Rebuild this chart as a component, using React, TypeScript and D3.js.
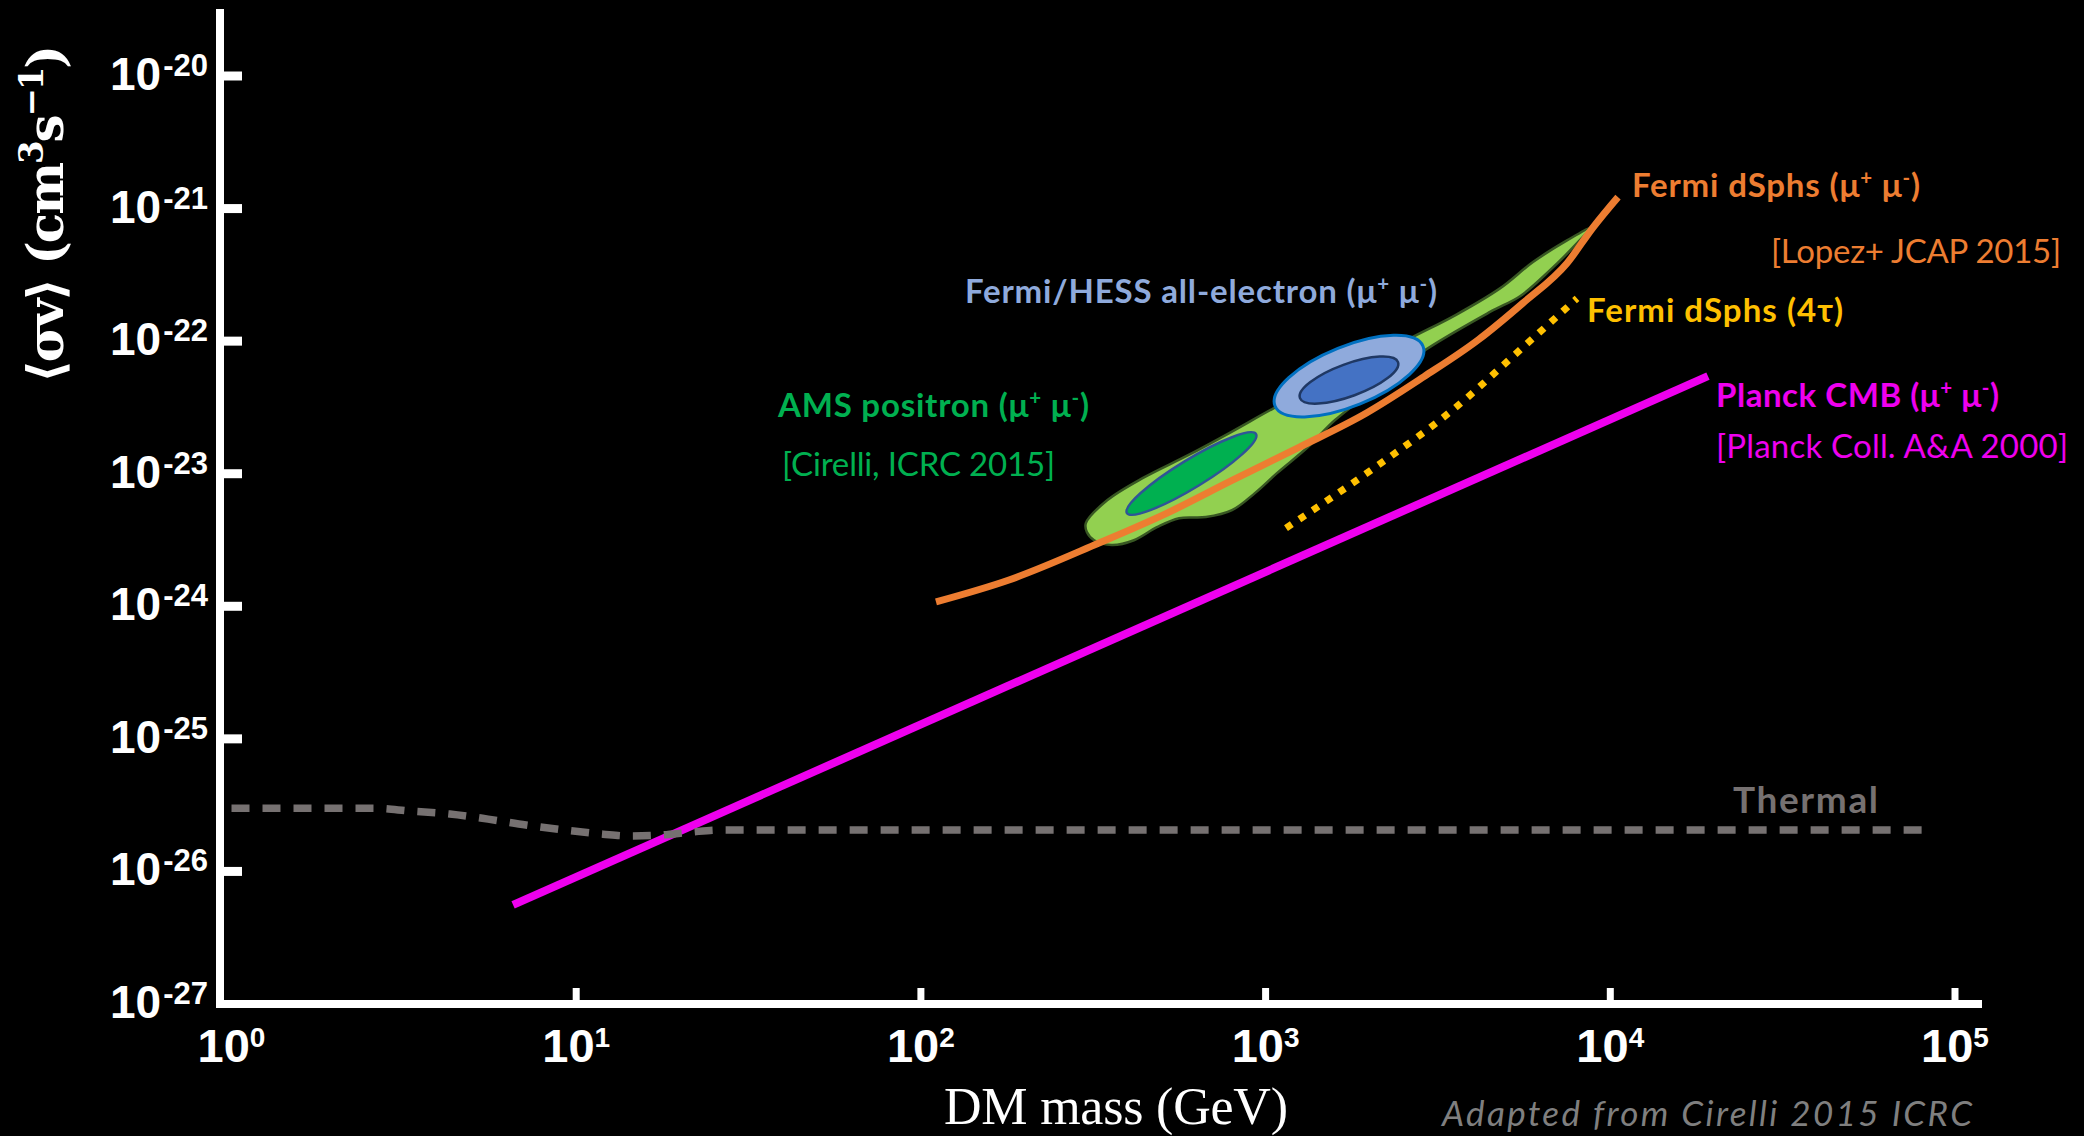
import React from "react";
import * as d3 from "d3";

const W = 2084;
const H = 1136;

// Axis ticks (decades)
const xTickValues = [1, 10, 100, 1000, 10000, 100000];
const xTickExponents = ["0", "1", "2", "3", "4", "5"];
const yTickValues = [1e-20, 1e-21, 1e-22, 1e-23, 1e-24, 1e-25, 1e-26, 1e-27];
const yTickExponents = ["-20", "-21", "-22", "-23", "-24", "-25", "-26", "-27"];

// Thermal relic cross section (GeV, cm^3 s^-1)
const thermalMass = [1, 2.57, 3.32, 4.3, 5.55, 7.15, 9.28, 11.96, 14.32, 17.51, 21.54, 25.78, 80760];
const thermalSv = [3.0e-26, 3.0e-26, 2.85e-26, 2.71e-26, 2.48e-26, 2.24e-26, 2.05e-26, 1.91e-26, 1.85e-26, 1.88e-26, 1.98e-26, 2.05e-26, 2.05e-26];

// Planck CMB bound (mu+ mu-)
const planckMass = [6.56, 19200];
const planckSv = [5.59e-27, 5.45e-23];

// Fermi dSphs bound (mu+ mu-)
const fermiMuMass = [110.6, 180.1, 328.6, 514.2, 798.8, 1250, 1956, 2881, 4133, 5582, 7489, 8910, 10527];
const fermiMuSv = [1.08e-24, 1.58e-24, 3.0e-24, 5.0e-24, 8.9e-24, 1.58e-23, 2.86e-23, 5.4e-23, 1.02e-22, 1.94e-22, 3.87e-22, 7.2e-22, 1.22e-21];

// Fermi dSphs bound (4 tau)
const fermiTauMass = [1146, 1956, 3568, 5582, 8007];
const fermiTauSv = [3.89e-24, 1.0e-23, 3.18e-23, 9.0e-23, 2.1e-22];

// AMS positron allowed region (outer contour)
const amsRegionMass = [301, 347, 441, 596, 799, 1051, 1438, 2009, 2572, 3568, 4786, 5967, 7489, 8733, 8007, 6686, 5471, 4477, 2843, 2147, 1590, 1327, 1079, 931, 799, 671, 561, 484, 415, 358, 318, 303];
const amsRegionSv = [4.24e-24, 6.3e-24, 9.3e-24, 1.38e-23, 2.08e-23, 3.1e-23, 4.7e-23, 7.2e-23, 1.02e-22, 1.58e-22, 2.5e-22, 3.95e-22, 5.75e-22, 7.11e-22, 5.48e-22, 3.43e-22, 2.18e-22, 1.66e-22, 8.26e-23, 4.66e-23, 2.54e-23, 1.59e-23, 1.01e-23, 7.14e-24, 5.31e-24, 4.71e-24, 4.62e-24, 3.95e-24, 3.15e-24, 2.9e-24, 3.15e-24, 3.63e-24];

// Elliptical best-fit regions: major-axis end points [mass, sv] and minor/major ratio
const amsCoreEnds = [[396, 5.05e-24], [938, 1.99e-23]];
const amsCoreRatio = 0.185;
const hessOuterEnds = [[1065, 3.24e-23], [2862, 9.16e-23]];
const hessOuterRatio = 0.375;
const hessInnerEnds = [[1258, 3.72e-23], [2422, 6.95e-23]];
const hessInnerRatio = 0.31;

const x = d3.scaleLog().domain([1, 1e5]).range([231.5, 1955]);
const y = d3.scaleLog().domain([1e-27, 1e-20]).range([1004, 76]);

const pts = (ms: number[], ss: number[]) => ms.map((m, i) => [x(m), y(ss[i])] as [number, number]);

const smoothLine = d3.line().curve(d3.curveMonotoneX);
const straightLine = d3.line();
const closedShape = d3.line().curve(d3.curveCatmullRomClosed.alpha(0.5));

function Ellipse({ ends, ratio, fill, stroke, sw }: any) {
  const [p1, p2] = ends.map((e: number[]) => [x(e[0]), y(e[1])]);
  const cx = (p1[0] + p2[0]) / 2;
  const cy = (p1[1] + p2[1]) / 2;
  const a = Math.hypot(p2[0] - p1[0], p2[1] - p1[1]) / 2;
  const ang = (Math.atan2(p2[1] - p1[1], p2[0] - p1[0]) * 180) / Math.PI;
  return (
    <ellipse cx={cx} cy={cy} rx={a} ry={a * ratio} fill={fill} stroke={stroke} strokeWidth={sw}
      transform={`rotate(${ang} ${cx} ${cy})`} />
  );
}

const LABEL_FONT = "Lato, 'Open Sans', 'DejaVu Sans', sans-serif";

function MuLabel({ x0, y0, size, color, bold, len, prefix }: any) {
  const up = size * 0.36;
  const s = size * 0.62;
  return (
    <text x={x0} y={y0} fill={color} fontFamily={LABEL_FONT} fontSize={size} fontWeight={bold ? 700 : 400}
      textLength={len} lengthAdjust="spacing">
      {prefix}(μ<tspan dy={-up} fontSize={s}>+</tspan><tspan dy={up}> μ</tspan>
      <tspan dy={-up} fontSize={s}>-</tspan><tspan dy={up}>)</tspan>
    </text>
  );
}

function PlainLabel({ x0, y0, size, color, bold, italic, len, children }: any) {
  return (
    <text x={x0} y={y0} fill={color} fontFamily={LABEL_FONT} fontSize={size} fontWeight={bold ? 700 : 400}
      fontStyle={italic ? "italic" : "normal"} textLength={len} lengthAdjust="spacing">
      {children}
    </text>
  );
}

export default function App() {
  const axisX = 220;
  const axisY = 1004;
  return (
    <svg width={W} height={H} style={{ position: "absolute", left: 0, top: 0, display: "block" }}>
      <rect x={0} y={0} width={W} height={H} fill="#000" />

      {/* Planck CMB bound */}
      <path d={straightLine(pts(planckMass, planckSv)) || ""} fill="none" stroke="#EE00EE" strokeWidth={8} />

      {/* Thermal relic */}
      <path d={smoothLine(pts(thermalMass, thermalSv)) || ""} fill="none" stroke="#767171" strokeWidth={7.5}
        strokeDasharray="18 13" />

      {/* AMS positron region and best-fit ellipses */}
      <path d={closedShape(pts(amsRegionMass, amsRegionSv)) || ""} fill="#92D050" stroke="#385723" strokeWidth={2.5} />
      <Ellipse ends={amsCoreEnds} ratio={amsCoreRatio} fill="#00B050" stroke="#2F5597" sw={2.5} />
      <Ellipse ends={hessOuterEnds} ratio={hessOuterRatio} fill="#8FAADC" stroke="#0070C0" sw={3} />
      <Ellipse ends={hessInnerEnds} ratio={hessInnerRatio} fill="#4472C4" stroke="#1F3864" sw={2.5} />

      {/* Fermi dSphs bounds */}
      <path d={smoothLine(pts(fermiMuMass, fermiMuSv)) || ""} fill="none" stroke="#ED7D31" strokeWidth={7} />
      <path d={smoothLine(pts(fermiTauMass, fermiTauSv)) || ""} fill="none" stroke="#FFC000" strokeWidth={7}
        strokeDasharray="7 9" />

      {/* Axes */}
      <line x1={axisX} x2={axisX} y1={9} y2={axisY + 4} stroke="#fff" strokeWidth={8} />
      <line x1={axisX - 4} x2={1982} y1={axisY} y2={axisY} stroke="#fff" strokeWidth={8} />
      {yTickValues.slice(0, 7).map((v) => (
        <line key={"yt" + v} x1={axisX + 4} x2={242} y1={y(v)} y2={y(v)} stroke="#fff" strokeWidth={9} />
      ))}
      {xTickValues.slice(1).map((v) => (
        <line key={"xt" + v} x1={x(v)} x2={x(v)} y1={axisY - 4} y2={988} stroke="#fff" strokeWidth={7} />
      ))}
      {yTickValues.map((v, i) => (
        <text key={"yl" + v} x={208} y={y(v) + 14} textAnchor="end" fill="#fff"
          fontFamily="'Liberation Sans', Arial, sans-serif" fontWeight={700} fontSize={46}>
          10<tspan dx={2} dy={-14} fontSize={31}>{yTickExponents[i]}</tspan>
        </text>
      ))}
      {xTickValues.map((v, i) => (
        <text key={"xl" + v} x={x(v)} y={1062} textAnchor="middle" fill="#fff"
          fontFamily="'Liberation Sans', Arial, sans-serif" fontWeight={700} fontSize={47}>
          10<tspan dy={-15} fontSize={28}>{xTickExponents[i]}</tspan>
        </text>
      ))}

      {/* Axis titles */}
      <text x={944} y={1124} fill="#fff" fontFamily="'Liberation Serif', serif" fontSize={52}
        textLength={344} lengthAdjust="spacing">DM mass (GeV)</text>
      <text transform="translate(63 214) rotate(-90)" textAnchor="middle" fill="#fff"
        fontFamily="'DejaVu Serif', 'DejaVu Sans', serif" fontWeight={700} fontSize={50}
        textLength={338} lengthAdjust="spacing">
        ⟨σv⟩  (cm<tspan dy={-20} fontSize={34}>3</tspan><tspan dy={20}>s</tspan>
        <tspan dy={-20} fontSize={34}>−1</tspan><tspan dy={20}>)</tspan>
      </text>

      {/* Annotations */}
      <MuLabel x0={1632} y0={197} size={33} color="#ED7D31" bold len={288} prefix="Fermi dSphs " />
      <PlainLabel x0={1771} y0={263} size={33} color="#ED7D31" len={290}>[Lopez+ JCAP 2015]</PlainLabel>
      <MuLabel x0={965} y0={303} size={33} color="#8FAADC" bold len={472} prefix="Fermi/HESS all-electron " />
      <PlainLabel x0={1587} y0={322} size={33} color="#FFC000" bold len={256}>Fermi dSphs (4τ)</PlainLabel>
      <MuLabel x0={778} y0={417} size={33} color="#00B050" bold len={311} prefix="AMS positron " />
      <PlainLabel x0={782} y0={476} size={33} color="#00B050" len={273}>[Cirelli, ICRC 2015]</PlainLabel>
      <MuLabel x0={1716} y0={407} size={33} color="#EE00EE" bold len={283} prefix="Planck CMB " />
      <PlainLabel x0={1716} y0={458} size={33} color="#EE00EE" len={352}>[Planck Coll. A&amp;A 2000]</PlainLabel>
      <PlainLabel x0={1733} y0={813} size={37} color="#767171" bold len={145}>Thermal</PlainLabel>
      <PlainLabel x0={1442} y0={1126} size={35} color="#7F7F7F" italic len={530}>Adapted from Cirelli 2015 ICRC</PlainLabel>
    </svg>
  );
}
